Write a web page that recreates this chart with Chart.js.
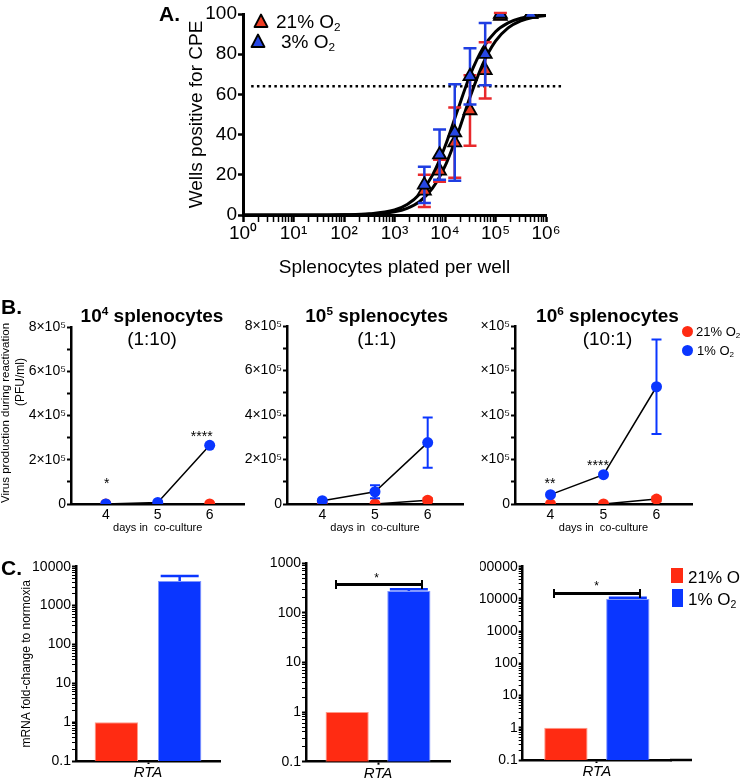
<!DOCTYPE html>
<html>
<head>
<meta charset="utf-8">
<script src="https://cdn.jsdelivr.net/npm/chart.js@4.4.1/dist/chart.umd.min.js"></script>
<style>
  body { margin: 0; background: #fff; }
  #fig { position: relative; width: 740px; height: 781px; overflow: hidden;
         font-family: "Liberation Sans", Arial, Helvetica, sans-serif; color: #000; }
  #fig canvas { position: absolute; }
  .lbl { position: absolute; transform: translate(-50%, -50%); line-height: 1; white-space: nowrap; }
  .lft { transform: translate(0, -50%); }
  .rot { transform: translate(-50%, -50%) rotate(-90deg); }
  .lbl sub { font-size: 0.62em; vertical-align: -0.3em; line-height: 0; }
  .lbl sup { font-size: 0.62em; vertical-align: 0.55em; line-height: 0; }
  .box { position: absolute; }
  .brk { position: absolute; height: 9px; border-left: 2px solid #000; border-right: 2px solid #000; box-sizing: border-box; }
  .brk::after { content: ""; position: absolute; left: 0; right: 0; top: 3.5px; height: 2.5px; background: #000; }
</style>
</head>
<body>
<div id="fig"></div>
<script>
const FONT = '"Liberation Sans", Arial, Helvetica, sans-serif';
const RED = '#ff2b12', BLUE = '#0a36ff';
const TRI_RED = '#ee3d24', TRI_BLUE = '#2647e4';
const ERR_RED = '#e8292c', ERR_BLUE = '#1f3ee2';

// ---- panel A: wells positive for CPE vs cells plated
const cellsPlated = [3900, 7800, 15600, 31250, 62500, 125000, 500000];
const cpe21 = [12, 22, 36, 52, 72, 99, 100];
const cpe21Err = [8, 5.5, 17.5, 17.5, 14, 1.5, 0];
const cpe3 = [15, 30, 41, 69, 80, 100, 100];
const cpe3Err = [9, 12.5, 24, 14, 15.5, 0, 0];
// fitted curves
const fitX = [1, 3.16, 10, 31.6, 100, 316, 1000, 1780, 3160, 5620, 10000, 17800, 31600, 56200, 100000, 178000, 316000, 562000, 1000000];
const fit21 = [0, 0, 0, 0.02, 0.08, 0.36, 1.6, 3.3, 6.7, 13.2, 24.3, 40.4, 58.9, 75.2, 86.5, 93.1, 96.6, 98.4, 99.2];
const fit3 = [0, 0, 0.01, 0.03, 0.13, 0.58, 2.5, 5.2, 10.4, 19.7, 34.1, 52.2, 69.8, 83.0, 91.2, 95.6, 97.9, 99.0, 99.5];
const cutoffX = [1.45, 2000000];
const cutoffY = [64, 64];
const decadeLabels = ['10⁰', '10¹', '10²', '10³', '10⁴', '10⁵', '10⁶'];

// ---- panel B: virus production (PFU/ml)
const days = [4, 5, 6];
const b1Hyp = [0, 7000, 265000];
const b1HypErr = [0, 0, 0];
const b1Norm = [0, 0, 0];
const b1NormErr = [0, 0, 0];
const b2Hyp = [15000, 55000, 276000];
const b2HypErr = [0, 29000, 113000];
const b2Norm = [0, 0, 17000];
const b2NormErr = [0, 0, 9000];
const b3Hyp = [42000, 132000, 527000];
const b3HypErr = [0, 0, 212000];
const b3Norm = [0, 0, 22000];
const b3NormErr = [0, 0, 10000];
const bTickLabels = ['0', '', '2×10⁵', '', '4×10⁵', '', '6×10⁵', '', '8×10⁵'];

// ---- panel C: RTA mRNA fold change
const genes = ['RTA'];
const normoxia = [1];
const c1Hyp = [4300], c1HypErr = [1500];
const c2Hyp = [275], c2HypErr = [24];
const c3Hyp = [10000], c3HypErr = [800];
const logLabels = ['0.1', '1', '10', '100', '1000', '10000', '100000'];

const fig = document.getElementById('fig');

function xy(xs, ys) { return xs.map((x, i) => ({ x, y: ys[i] })); }
function isPow10(v) { const l = Math.log10(v); return Math.abs(l - Math.round(l)) < 1e-6; }
function logTicks(min, max) {
  const out = [];
  for (let e = Math.round(Math.log10(min)); e < Math.round(Math.log10(max)); e++) {
    for (let m = 1; m < 10; m++) out.push({ value: m * Math.pow(10, e) });
  }
  out.push({ value: max });
  return out;
}

// error bars, drawn just before their own dataset
const errorBars = {
  id: 'errorBars',
  beforeDatasetDraw(chart, args) {
    const ds = chart.data.datasets[args.index];
    if (!ds.errors) return;
    const meta = args.meta;
    const yScale = chart.scales[meta.yAxisID];
    const ctx = chart.ctx;
    ctx.save();
    ctx.strokeStyle = ds.errorColor;
    ctx.lineWidth = ds.errorWidth;
    meta.data.forEach((el, j) => {
      const err = ds.errors[j];
      if (!err) return;
      const raw = ds.data[j];
      const v = typeof raw === 'object' ? raw.y : raw;
      const top = yScale.getPixelForValue(v + err);
      const bot = yScale.getPixelForValue(ds.upperOnly ? v : v - err);
      const half = ds.capWidth / 2;
      ctx.beginPath();
      ctx.moveTo(el.x, top); ctx.lineTo(el.x, bot);
      ctx.moveTo(el.x - half, top); ctx.lineTo(el.x + half, top);
      if (!ds.upperOnly) { ctx.moveTo(el.x - half, bot); ctx.lineTo(el.x + half, bot); }
      ctx.stroke();
    });
    ctx.restore();
  }
};

// x axis line running on past the last category
const axisExt = {
  id: 'axisExt',
  afterDraw(chart, args, opts) {
    if (!opts || !opts.len) return;
    const { ctx, chartArea: a } = chart;
    ctx.save();
    ctx.strokeStyle = '#000';
    ctx.lineWidth = 2.5;
    ctx.beginPath();
    ctx.moveTo(a.right - 1, a.bottom);
    ctx.lineTo(a.right + opts.len, a.bottom);
    ctx.stroke();
    ctx.restore();
  }
};

Chart.register(errorBars, axisExt);
Chart.defaults.font.family = FONT;
Chart.defaults.color = '#000';
Chart.defaults.animation = false;
Chart.defaults.events = [];
Chart.defaults.responsive = false;
Chart.defaults.plugins.legend.display = false;
Chart.defaults.plugins.tooltip.enabled = false;

// one canvas per panel; padding puts the plot area where the figure has it
function panel(box, area, wy, hx, config) {
  const c = document.createElement('canvas');
  c.width = box.w; c.height = box.h;
  c.style.left = box.x + 'px'; c.style.top = box.y + 'px';
  c.style.width = box.w + 'px'; c.style.height = box.h + 'px';
  fig.appendChild(c);
  config.options.devicePixelRatio = 1;
  config.options.layout = { padding: {
    left: area.l - box.x - wy, right: box.x + box.w - area.r,
    top: area.t - box.y, bottom: box.y + box.h - area.b - hx } };
  config.options.scales.y.afterFit = s => { s.width = wy; };
  config.options.scales.x.afterFit = s => { s.height = hx; };
  return new Chart(c, config);
}

// ---------- A
panel({ x: 0, y: 0, w: 740, h: 290 }, { l: 243, r: 546, t: 14, b: 215 }, 58, 64.4, {
  type: 'scatter',
  data: { datasets: [
    { data: xy(cellsPlated, cpe3), pointStyle: 'triangle', pointRadius: 7.5,
      pointBackgroundColor: TRI_BLUE, pointBorderColor: '#000', pointBorderWidth: 1.8,
      errors: cpe3Err, errorColor: ERR_BLUE, errorWidth: 2.5, capWidth: 13 },
    { data: xy(cellsPlated, cpe21), pointStyle: 'triangle', pointRadius: 7.5,
      pointBackgroundColor: TRI_RED, pointBorderColor: '#000', pointBorderWidth: 1.8,
      errors: cpe21Err, errorColor: ERR_RED, errorWidth: 2.5, capWidth: 13 },
    { data: xy(fitX, fit3), showLine: true, borderColor: '#000', borderWidth: 3,
      pointRadius: 0, cubicInterpolationMode: 'monotone' },
    { data: xy(fitX, fit21), showLine: true, borderColor: '#000', borderWidth: 3,
      pointRadius: 0, cubicInterpolationMode: 'monotone' },
    { data: xy(cutoffX, cutoffY), showLine: true, borderColor: '#000', borderWidth: 2.5,
      borderDash: [2.5, 3.3], pointRadius: 0, clip: false }
  ] },
  options: { scales: {
    x: {
      type: 'logarithmic', min: 1, max: 1000000,
      afterBuildTicks: s => { s.ticks = logTicks(1, 1000000); },
      border: { color: '#000', width: 3 },
      grid: { drawOnChartArea: false, color: '#000', tickLength: 7,
              tickWidth: c => (c.tick && isPow10(c.tick.value)) ? 2.5 : 1.5 },
      ticks: { autoSkip: false, maxRotation: 0, padding: 0, font: { size: 19 },
               callback: v => isPow10(v) ? decadeLabels[Math.round(Math.log10(v))] : '' },
      title: { display: true, text: 'Splenocytes plated per well', font: { size: 19 }, padding: 0 }
    },
    y: {
      min: 0, max: 100,
      border: { color: '#000', width: 3 },
      grid: { drawOnChartArea: false, color: '#000', tickLength: 5, tickWidth: 2.5 },
      ticks: { stepSize: 20, padding: 1, font: { size: 19 } },
      title: { display: true, text: 'Wells positive for CPE', font: { size: 19 }, padding: 0 }
    }
  } }
});

// ---------- B
function makeB(box, area, wy, hyp, hypErr, norm, normErr) {
  return panel(box, area, wy, 30.6, {
    type: 'scatter',
    data: { datasets: [
      { data: xy(days, hyp), showLine: true, borderColor: '#000', borderWidth: 1.5,
        pointRadius: 5.5, pointBackgroundColor: BLUE, pointBorderColor: BLUE, pointBorderWidth: 0,
        errors: hypErr, errorColor: BLUE, errorWidth: 2, capWidth: 10 },
      { data: xy(days, norm), showLine: true, borderColor: '#000', borderWidth: 1.5,
        pointRadius: 5.5, pointBackgroundColor: RED, pointBorderColor: RED, pointBorderWidth: 0,
        errors: normErr, errorColor: RED, errorWidth: 2, capWidth: 10 }
    ] },
    options: { scales: {
      x: {
        type: 'linear', min: 3.33, max: 6.67,
        afterBuildTicks: s => { s.ticks = days.map(v => ({ value: v })); },
        border: { color: '#000', width: 2.5 },
        grid: { drawOnChartArea: false, drawTicks: false },
        ticks: { padding: 3, font: { size: 14 } },
        title: { display: true, text: 'days in  co-culture', font: { size: 11 }, padding: 0 }
      },
      y: {
        min: 0, max: 800000,
        border: { color: '#000', width: 2.5 },
        grid: { drawOnChartArea: false, color: '#000', tickLength: 4, tickWidth: 2 },
        ticks: { stepSize: 100000, autoSkip: false, padding: 1, font: { size: 14 },
                 callback: v => bTickLabels[Math.round(v / 100000)] }
      }
    } }
  });
}
makeB({ x: 0, y: 285, w: 250, h: 250 }, { l: 71, r: 248, t: 327, b: 504 }, 50, b1Hyp, b1HypErr, b1Norm, b1NormErr);
makeB({ x: 240, y: 285, w: 240, h: 250 }, { l: 287, r: 463, t: 326, b: 504 }, 47, b2Hyp, b2HypErr, b2Norm, b2NormErr);
makeB({ x: 480, y: 285, w: 260, h: 250 }, { l: 515, r: 692, t: 326, b: 504 }, 35, b3Hyp, b3HypErr, b3Norm, b3NormErr);

// ---------- C
function makeC(box, area, wy, hx, yMax, hyp, hypErr, catPct, barPct, yTitle, ext) {
  return panel(box, area, wy, hx, {
    type: 'bar',
    data: { labels: genes, datasets: [
      { data: normoxia, backgroundColor: RED, borderColor: '#ff9a88', borderWidth: 1,
        categoryPercentage: catPct, barPercentage: barPct },
      { data: hyp, backgroundColor: BLUE, borderColor: '#8096ff', borderWidth: 1,
        categoryPercentage: catPct, barPercentage: barPct,
        errors: hypErr, upperOnly: true, errorColor: BLUE, errorWidth: 2.5, capWidth: 38 }
    ] },
    options: {
      plugins: { axisExt: { len: ext || 0 } },
      scales: {
        x: {
          border: { color: '#000', width: 2.5 },
          grid: { drawOnChartArea: false, offset: false, color: '#000', tickLength: 3, tickWidth: 2 },
          ticks: { padding: 0, font: { size: 15, style: 'italic' } }
        },
        y: {
          type: 'logarithmic', min: 0.1, max: yMax,
          afterBuildTicks: s => { s.ticks = logTicks(0.1, yMax); },
          border: { color: '#000', width: 2.5 },
          grid: { drawOnChartArea: false, color: '#000', tickLength: 4,
                  tickWidth: c => (c.tick && isPow10(c.tick.value)) ? 2 : 1 },
          ticks: { autoSkip: false, padding: 1, font: { size: 14 },
                   callback: v => isPow10(v) ? logLabels[Math.round(Math.log10(v)) + 1] : '' },
          title: yTitle ? { display: true, text: yTitle, font: { size: 12 }, padding: 0 } : { display: false }
        }
      }
    }
  });
}
makeC({ x: 0, y: 540, w: 240, h: 241 }, { l: 76, r: 220, t: 566.7, b: 761 }, 57, 20, 10000,
      c1Hyp, c1HypErr, 0.88, 0.684, 'mRNA fold-change to normoxia');
makeC({ x: 240, y: 540, w: 240, h: 241 }, { l: 306, r: 450, t: 563.3, b: 761.7 }, 45, 19.3, 1000,
      c2Hyp, c2HypErr, 0.857, 0.70);
makeC({ x: 480, y: 540, w: 260, h: 241 }, { l: 522.7, r: 671, t: 566.7, b: 760 }, 42.7, 21, 100000,
      c3Hyp, c3HypErr, 0.835, 0.70, null, 21);

// ---------- text overlays
function label(html, x, y, css, cls) {
  const d = document.createElement('div');
  d.className = 'lbl' + (cls ? ' ' + cls : '');
  d.innerHTML = html;
  d.style.cssText = `left:${x}px;top:${y}px;` + (css || '');
  fig.appendChild(d);
  return d;
}
function triangle(x, y, fill) {
  const d = document.createElement('div');
  d.className = 'box';
  d.style.cssText = `left:${x - 8}px;top:${y - 8}px;width:16px;height:16px`;
  d.innerHTML = `<svg width="16" height="16"><polygon points="8,1.5 14.5,14 1.5,14" fill="${fill}" stroke="#000" stroke-width="1.8" stroke-linejoin="round"/></svg>`;
  fig.appendChild(d);
}
function swatch(x, y, w, h, color, round) {
  const d = document.createElement('div');
  d.className = 'box';
  d.style.cssText = `left:${x}px;top:${y}px;width:${w}px;height:${h}px;background:${color};` + (round ? 'border-radius:50%;' : '');
  fig.appendChild(d);
}
function bracket(x1, x2, y) {
  const d = document.createElement('div');
  d.className = 'brk';
  d.style.cssText = `left:${x1}px;top:${y - 4.5}px;width:${x2 - x1}px`;
  fig.appendChild(d);
}

// panel letters
label('A.', 159, 13, 'font-size:21px;font-weight:bold', 'lft');
label('B.', 1, 305.5, 'font-size:21px;font-weight:bold', 'lft');
label('C.', 1, 567, 'font-size:21px;font-weight:bold', 'lft');

// A legend
triangle(260.5, 21, TRI_RED);
label('21% O<sub>2</sub>', 276, 21, 'font-size:19px', 'lft');
triangle(258, 41, TRI_BLUE);
label('3% O<sub>2</sub>', 281, 41, 'font-size:19px', 'lft');

// B headers
const heads = [[152, '10<sup>4</sup> splenocytes', '(1:10)'],
               [376.7, '10<sup>5</sup> splenocytes', '(1:1)'],
               [607.5, '10<sup>6</sup> splenocytes', '(10:1)']];
heads.forEach(h => {
  label(h[1], h[0], 314.5, 'font-size:19px;font-weight:bold');
  label(h[2], h[0], 337.5, 'font-size:19px');
});

// B y title
label('Virus production during reactivation', 6, 413, 'font-size:11.5px', 'rot');
label('(PFU/ml)', 20, 382, 'font-size:12px', 'rot');

// B legend
swatch(681.8, 325.5, 11, 11, RED, true);
label('21% O<sub>2</sub>', 696, 331, 'font-size:13px', 'lft');
swatch(681.8, 344.5, 11, 11, BLUE, true);
label('1% O<sub>2</sub>', 697, 350, 'font-size:13px', 'lft');

// significance stars
label('*', 106.7, 483, 'font-size:14px');
label('****', 201.7, 436.3, 'font-size:14px');
label('**', 550, 483, 'font-size:14px');
label('****', 598, 464.7, 'font-size:14px');
label('*', 376.7, 577.5, 'font-size:12px');
label('*', 596.7, 585.5, 'font-size:12px');
bracket(335, 422.7, 584);
bracket(553.3, 640.7, 593.3);

// C legend
swatch(670.7, 568.3, 12.7, 15, RED);
label('21% O<sub>2</sub>', 688, 577, 'font-size:17px', 'lft');
swatch(671.5, 588.5, 11.8, 18.5, BLUE);
label('1% O<sub>2</sub>', 688, 598.5, 'font-size:17px', 'lft');
</script>
</body>
</html>
